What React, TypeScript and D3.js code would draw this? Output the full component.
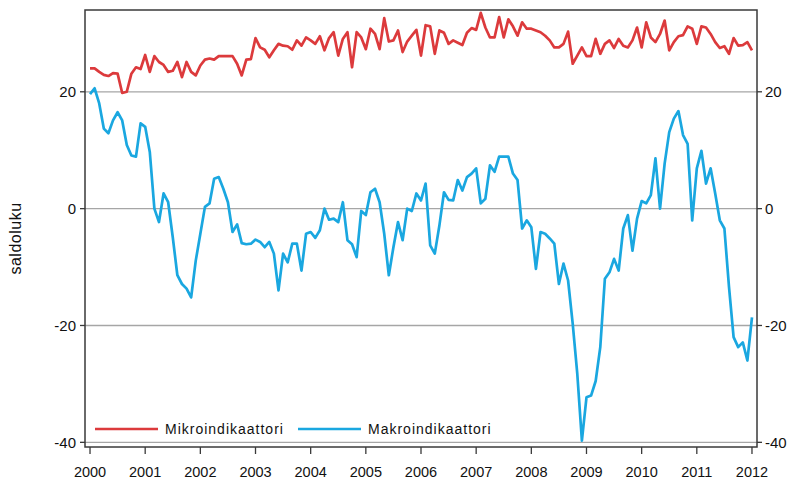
import React from 'react';
import { scaleLinear, line } from 'd3';

// monthly values, Jan 2000 .. Jan 2012
const startYear = 2000;
const mikro: number[] = [
  24.0, 24.0, 23.4, 22.9, 22.7, 23.2, 23.1, 19.8, 20.0, 23.1, 24.2, 23.9,
  26.3, 23.4, 26.1, 25.1, 24.6, 23.4, 23.6, 25.1, 22.5, 25.1, 23.4, 22.8,
  24.5, 25.5, 25.7, 25.5, 26.1, 26.1, 26.1, 26.1, 24.8, 22.8, 25.5, 25.6,
  29.2, 27.6, 27.2, 25.9, 27.1, 28.2, 27.9, 27.8, 27.2, 28.8, 27.9, 29.3,
  28.8, 28.2, 29.5, 27.1, 29.2, 30.2, 26.2, 29.05, 30.2, 24.2, 30.2, 29.3,
  27.3, 30.8, 29.9, 27.3, 32.6, 28.6, 28.8, 30.5, 26.8, 28.6, 29.6, 30.6,
  26.2, 31.4, 31.2, 26.5, 30.5, 30.1, 28.2, 28.8, 28.4, 28.0, 30.1, 30.9,
  30.6, 33.5, 31.0, 29.3, 29.3, 32.8, 29.3, 32.4, 31.2, 29.6, 31.9, 30.8,
  30.8, 30.5, 30.2, 29.6, 28.8, 27.6, 27.6, 28.2, 30.3, 24.8, 26.2, 27.6,
  26.1, 26.1, 29.05, 26.5, 28.2, 28.8, 27.5, 29.05, 27.9, 27.6, 28.8, 31.0,
  27.6, 31.9, 29.3, 28.5, 29.9, 32.2, 27.1, 28.5, 29.5, 29.7, 31.2, 30.8,
  28.2, 31.2, 31.0, 29.9, 28.5, 27.5, 27.8, 26.5, 29.2, 27.9, 28.0, 28.5,
  27.1,
];
const makro: number[] = [
  19.6, 20.6, 18.0, 13.7, 12.9, 15.1, 16.5, 15.1, 10.9, 9.1, 8.9, 14.6,
  14.0, 9.7, 0.0, -2.3, 2.6, 1.1, -4.9, -11.4, -12.9, -13.7, -15.2, -8.9,
  -4.3, 0.3, 0.9, 5.1, 5.4, 3.4, 1.1, -4.0, -2.7, -5.9, -6.1, -6.0,
  -5.3, -5.7, -6.6, -5.7, -7.7, -14.0, -7.7, -9.2, -6.0, -6.0, -10.6, -4.3,
  -4.0, -5.0, -3.7, 0.0, -1.9, -1.7, -2.3, 1.1, -5.4, -6.1, -8.3, -0.4,
  -1.1, 2.8, 3.4, 1.1, -4.3, -11.4, -6.6, -2.3, -5.4, 0.0, -0.4, 2.6,
  1.4, 4.3, -6.3, -7.7, -2.9, 2.8, 1.5, 1.4, 4.9, 3.1, 5.4, 6.0,
  6.9, 0.9, 1.7, 7.4, 6.3, 8.9, 8.9, 8.9, 6.0, 4.9, -3.4, -2.0,
  -3.2, -10.3, -4.0, -4.3, -5.1, -6.0, -12.9, -9.4, -12.3, -19.7, -28.3, -39.7,
  -32.3, -32.0, -29.5, -23.7, -12.0, -10.9, -8.6, -10.6, -3.4, -1.1, -7.2, -1.7,
  1.3, 0.9, 2.3, 8.6, 0.0, 7.7, 13.1, 15.4, 16.7, 12.6, 11.1, -2.0,
  6.9, 9.9, 4.3, 6.9, 2.6, -2.0, -3.4, -13.4, -22.0, -23.7, -22.9, -26.0,
  -18.6,
];
const yearTicks = [2000, 2001, 2002, 2003, 2004, 2005, 2006, 2007, 2008, 2009, 2010, 2011, 2012];
const valueTicks = [20, 0, -20, -40];
const seriesNames = ['Mikroindikaattori', 'Makroindikaattori'];
const seriesColors = ['#dc3a3c', '#1aa7e0'];

const W = 795;
const H = 483;
const left = 85, right = 757, top = 10, bottom = 447;

export default function App() {
  const x = scaleLinear().domain([1999.909, 2012.091]).range([left, right]);
  const y = scaleLinear().domain([-40.8, 34.0]).range([bottom, top]);

  const path = line<number>()
    .x((_, i) => x(startYear + i / 12))
    .y(d => y(d));

  const font = 'Arial, "Liberation Sans", sans-serif';

  return (
    <svg width={W} height={H} style={{ position: 'absolute', left: 0, top: 0, background: '#fff' }}>
      {/* gridlines */}
      {valueTicks.map(v => (
        <line key={'g' + v} x1={left} x2={right} y1={y(v)} y2={y(v)} stroke="#a6a6a6" strokeWidth={1.3} />
      ))}

      <path d={path(mikro) ?? ''} fill="none" stroke={seriesColors[0]} strokeWidth={2.7} strokeLinejoin="round" />
      <path d={path(makro) ?? ''} fill="none" stroke={seriesColors[1]} strokeWidth={2.7} strokeLinejoin="round" />

      {/* frame */}
      <rect x={left} y={top} width={right - left} height={bottom - top} fill="none" stroke="#3a3a3a" strokeWidth={1.5} />

      {/* y ticks both sides */}
      {valueTicks.map(v => (
        <g key={'t' + v} fontFamily={font} fontSize={15} fill="#111">
          <line x1={left - 5} x2={left} y1={y(v)} y2={y(v)} stroke="#3a3a3a" strokeWidth={1.3} />
          <line x1={right} x2={right + 5} y1={y(v)} y2={y(v)} stroke="#3a3a3a" strokeWidth={1.3} />
          <text x={left - 9} y={y(v)} dy="0.36em" textAnchor="end">{v}</text>
          <text x={right + 8} y={y(v)} dy="0.36em" textAnchor="start">{v}</text>
        </g>
      ))}

      {/* x ticks */}
      {yearTicks.map(t => (
        <g key={'x' + t} fontFamily={font} fontSize={14.5} fill="#111">
          <line x1={x(t)} x2={x(t)} y1={bottom} y2={bottom + 7} stroke="#3a3a3a" strokeWidth={1.3} />
          <text x={x(t)} y={477} textAnchor="middle">{t}</text>
        </g>
      ))}

      <text
        transform={`translate(21, ${(top + bottom) / 2 + 10}) rotate(-90)`}
        textAnchor="middle"
        fontFamily={font}
        fontSize={16}
        letterSpacing={0.5}
        fill="#111"
      >
        saldoluku
      </text>

      {/* legend */}
      <g fontFamily={font} fontSize={14} letterSpacing={1} fill="#111">
        <line x1={95} x2={158} y1={429} y2={429} stroke={seriesColors[0]} strokeWidth={2.7} />
        <text x={165} y={429} dy="0.36em">{seriesNames[0]}</text>
        <line x1={298} x2={361} y1={429} y2={429} stroke={seriesColors[1]} strokeWidth={2.7} />
        <text x={368} y={429} dy="0.36em">{seriesNames[1]}</text>
      </g>
    </svg>
  );
}
